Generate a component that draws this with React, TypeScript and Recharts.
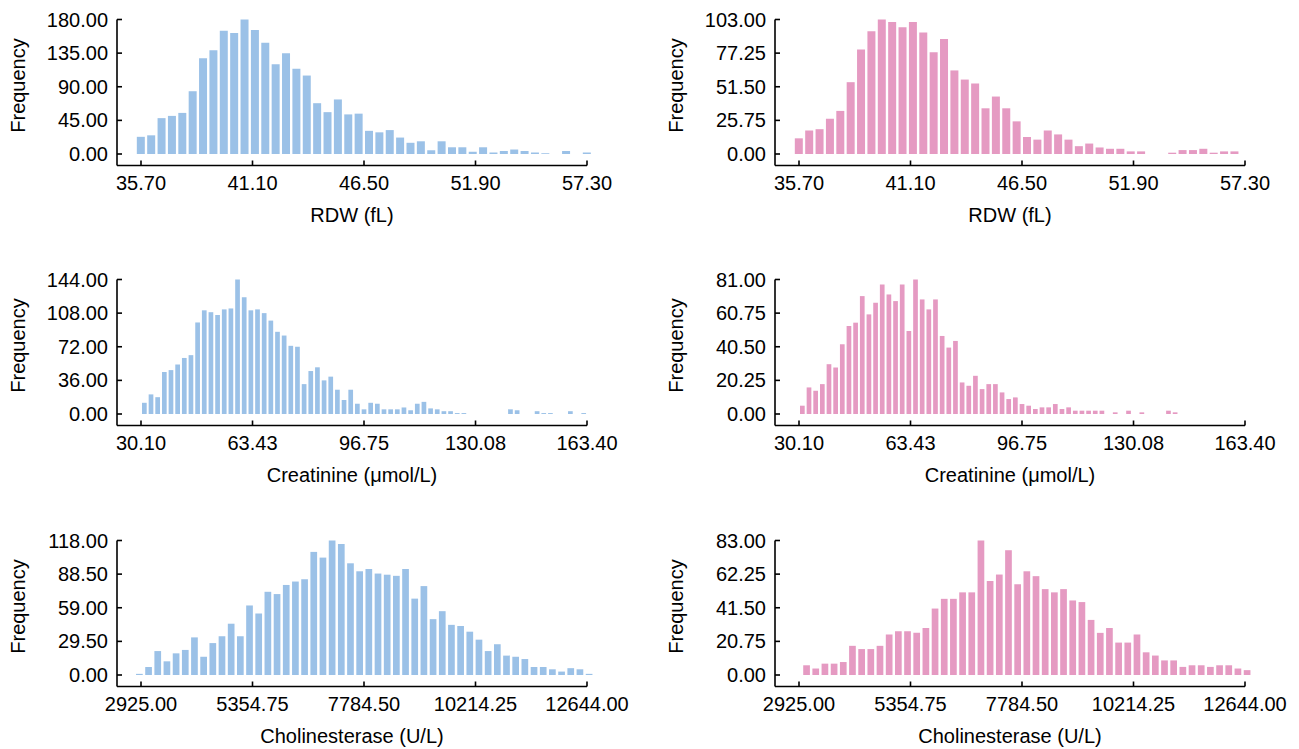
import React from 'react';
import { BarChart, Bar, XAxis, YAxis } from 'recharts';

const FONT = '"Liberation Sans", Arial, Helvetica, sans-serif';
const BLUE = '#9BC1E7';
const PINK = '#E59AC2';

// ---------- RDW (fL) ----------
const rdwXTicks = [35.7, 41.1, 46.5, 51.9, 57.3];
const rdwBinStart = 35.7;
const rdwBinWidth = 21.6 / 43;
const rdwBlueCounts = [23, 25, 48, 51, 55, 84, 128, 139, 165, 162, 180, 166, 149, 120, 135, 114, 105, 68, 56, 73, 53, 54, 31, 29, 32, 22, 15, 17, 5, 17, 9, 9, 3, 9, 2, 4, 6, 4, 2, 1, 0, 4, 0, 2];
const rdwPinkCounts = [12, 18, 19, 27, 33, 55, 80, 94, 103, 101, 97, 101, 93, 78, 88, 64, 57, 54, 35, 44, 35, 25, 13, 11, 18, 15, 11, 6, 8, 5, 4, 4, 2, 2, 0, 0, 1, 3, 3, 4, 1, 2, 2, 0];
const rdwBlueYTicks = [0, 45, 90, 135, 180];
const rdwPinkYTicks = [0, 25.75, 51.5, 77.25, 103];

// ---------- Creatinine (µmol/L) ----------
const creaXTicks = [30.1, 63.43, 96.75, 130.08, 163.4];
const creaBinWidth = 133.3 / 67;
const creaBinStart = 30.1 + creaBinWidth / 2;
const creaBlueCounts = [12, 21, 18, 45, 47, 53, 60, 63, 98, 111, 109, 106, 112, 113, 144, 125, 111, 112, 108, 100, 88, 84, 73, 72, 32, 46, 50, 36, 40, 26, 15, 26, 11, 5, 12, 11, 5, 5, 5, 7, 4, 11, 13, 6, 5, 3, 3, 1, 1, 0, 0, 0, 0, 0, 0, 5, 4, 0, 0, 3, 1, 1, 0, 0, 3, 0, 1];
const creaPinkCounts = [5, 16, 14, 18, 30, 28, 42, 53, 55, 71, 60, 67, 78, 72, 68, 78, 50, 81, 69, 63, 69, 47, 40, 44, 19, 17, 23, 15, 18, 18, 13, 9, 10, 6, 5, 3, 4, 4, 6, 3, 4, 2, 2, 2, 2, 2, 0, 1, 0, 2, 0, 1, 0, 0, 0, 2, 1, 0, 0, 0, 0, 0, 0, 0, 0, 0, 0];
const creaBlueYTicks = [0, 36, 72, 108, 144];
const creaPinkYTicks = [0, 20.25, 40.5, 60.75, 81];

// ---------- Cholinesterase (U/L) ----------
const cheXTicks = [2925, 5354.75, 7784.5, 10214.25, 12644];
const cheBinStart = 2895;
const cheBinWidth = 200;
const cheBlueCounts = [1, 7, 21, 12, 19, 22, 33, 16, 28, 34, 45, 34, 61, 54, 73, 71, 79, 82, 84, 108, 103, 118, 115, 98, 91, 93, 89, 88, 87, 93, 67, 78, 49, 56, 44, 43, 38, 31, 21, 27, 17, 16, 14, 7, 7, 5, 3, 6, 5, 1];
const chePinkCounts = [0, 6, 4, 7, 7, 8, 18, 16, 16, 18, 25, 27, 27, 26, 29, 41, 47, 47, 51, 51, 83, 58, 62, 77, 56, 64, 61, 53, 51, 53, 46, 45, 34, 26, 29, 20, 20, 25, 14, 12, 9, 9, 5, 6, 6, 5, 6, 6, 4, 3];
const cheBlueYTicks = [0, 29.5, 59, 88.5, 118];
const chePinkYTicks = [0, 20.75, 41.5, 62.25, 83];

// ---------- layout ----------
const CHART_W = 632;
const CHART_H = 250;
const M_TOP = 19.5;
const Y_AXIS_W = 117;
const M_RIGHT = 45;
const PLOT_H = 146;
const PLOT_W = CHART_W - Y_AXIS_W - M_RIGHT; // 470
const PAD_L = 24;
const DATA_W = PLOT_W - PAD_L; // 446
const Y_PAD_BOTTOM = 11.5;

const COL_X = [0, 657.5];
const ROW_Y = [0, 260.2, 520.5];

const fmt = (v: number) => v.toFixed(2);

type PanelProps = {
  left: number;
  top: number;
  counts: number[];
  binStart: number;
  binWidth: number;
  xTicks: number[];
  yTicks: number[];
  color: string;
  barSize: number;
  xLabel: string;
};

function Panel(props: PanelProps) {
  const { left, top, counts, binStart, binWidth, xTicks, yTicks, color, barSize, xLabel } = props;
  const data = counts.map((c, i) => ({ x: binStart + i * binWidth, count: c }));
  const t0 = xTicks[0];
  const t1 = xTicks[xTicks.length - 1];
  const lastX = data[data.length - 1].x;
  const d0 = Math.min(t0, binStart);
  const d1 = Math.max(t1, lastX);
  const s = DATA_W / (t1 - t0);
  const padL = PAD_L + (d0 - t0) * s;
  const padR = -(d1 - t1) * s;
  const yMax = yTicks[yTicks.length - 1];
  const tickStyle = { fontSize: 20, fill: '#000', fontFamily: FONT };
  const lineStyle = { stroke: '#000', strokeWidth: 1.6 };
  const plotBottom = M_TOP + PLOT_H;

  return (
    <div style={{ position: 'absolute', left, top, width: CHART_W, height: CHART_H }}>
      <BarChart
        width={CHART_W}
        height={CHART_H}
        data={data}
        margin={{ top: M_TOP, right: M_RIGHT, left: 0, bottom: 0 }}
        style={{ fontFamily: FONT }}
      >
        <XAxis
          type="number"
          dataKey="x"
          domain={[d0, d1]}
          ticks={xTicks}
          interval={0}
          tickFormatter={fmt}
          padding={{ left: padL, right: padR }}
          height={CHART_H - M_TOP - PLOT_H}
          axisLine={lineStyle}
          tickLine={lineStyle}
          tickSize={-5}
          tickMargin={15.5}
          tick={tickStyle}
        />
        <YAxis
          type="number"
          domain={[0, yMax]}
          ticks={yTicks}
          interval={0}
          tickFormatter={fmt}
          width={Y_AXIS_W}
          padding={{ top: 0, bottom: Y_PAD_BOTTOM }}
          axisLine={lineStyle}
          tickLine={lineStyle}
          tickSize={-5}
          tickMargin={14}
          tick={tickStyle}
        />
        <Bar dataKey="count" fill={color} barSize={barSize} isAnimationActive={false} />
      </BarChart>
      <svg
        width={CHART_W}
        height={CHART_H}
        style={{ position: 'absolute', left: 0, top: 0, pointerEvents: 'none' }}
      >
        <text
          x={18}
          y={M_TOP + 66}
          transform={`rotate(-90 18 ${M_TOP + 66})`}
          textAnchor="middle"
          dominantBaseline="central"
          fontSize={20}
          fill="#000"
          fontFamily={FONT}
        >
          Frequency
        </text>
        <text
          x={Y_AXIS_W + PLOT_W / 2}
          y={plotBottom + 49.5}
          textAnchor="middle"
          dominantBaseline="central"
          fontSize={20}
          fill="#000"
          fontFamily={FONT}
        >
          {xLabel}
        </text>
      </svg>
    </div>
  );
}

export default function App() {
  return (
    <div
      style={{
        position: 'absolute',
        left: 0,
        top: 0,
        width: 1299,
        height: 749,
        background: '#fff',
        overflow: 'hidden',
      }}
    >
      <Panel left={COL_X[0]} top={ROW_Y[0]} counts={rdwBlueCounts} binStart={rdwBinStart} binWidth={rdwBinWidth}
        xTicks={rdwXTicks} yTicks={rdwBlueYTicks} color={BLUE} barSize={8} xLabel="RDW (fL)" />
      <Panel left={COL_X[1]} top={ROW_Y[0]} counts={rdwPinkCounts} binStart={rdwBinStart} binWidth={rdwBinWidth}
        xTicks={rdwXTicks} yTicks={rdwPinkYTicks} color={PINK} barSize={8} xLabel="RDW (fL)" />
      <Panel left={COL_X[0]} top={ROW_Y[1]} counts={creaBlueCounts} binStart={creaBinStart} binWidth={creaBinWidth}
        xTicks={creaXTicks} yTicks={creaBlueYTicks} color={BLUE} barSize={4.7} xLabel="Creatinine (μmol/L)" />
      <Panel left={COL_X[1]} top={ROW_Y[1]} counts={creaPinkCounts} binStart={creaBinStart} binWidth={creaBinWidth}
        xTicks={creaXTicks} yTicks={creaPinkYTicks} color={PINK} barSize={4.7} xLabel="Creatinine (μmol/L)" />
      <Panel left={COL_X[0]} top={ROW_Y[2]} counts={cheBlueCounts} binStart={cheBinStart} binWidth={cheBinWidth}
        xTicks={cheXTicks} yTicks={cheBlueYTicks} color={BLUE} barSize={6.7} xLabel="Cholinesterase (U/L)" />
      <Panel left={COL_X[1]} top={ROW_Y[2]} counts={chePinkCounts} binStart={cheBinStart} binWidth={cheBinWidth}
        xTicks={cheXTicks} yTicks={chePinkYTicks} color={PINK} barSize={6.7} xLabel="Cholinesterase (U/L)" />
    </div>
  );
}
